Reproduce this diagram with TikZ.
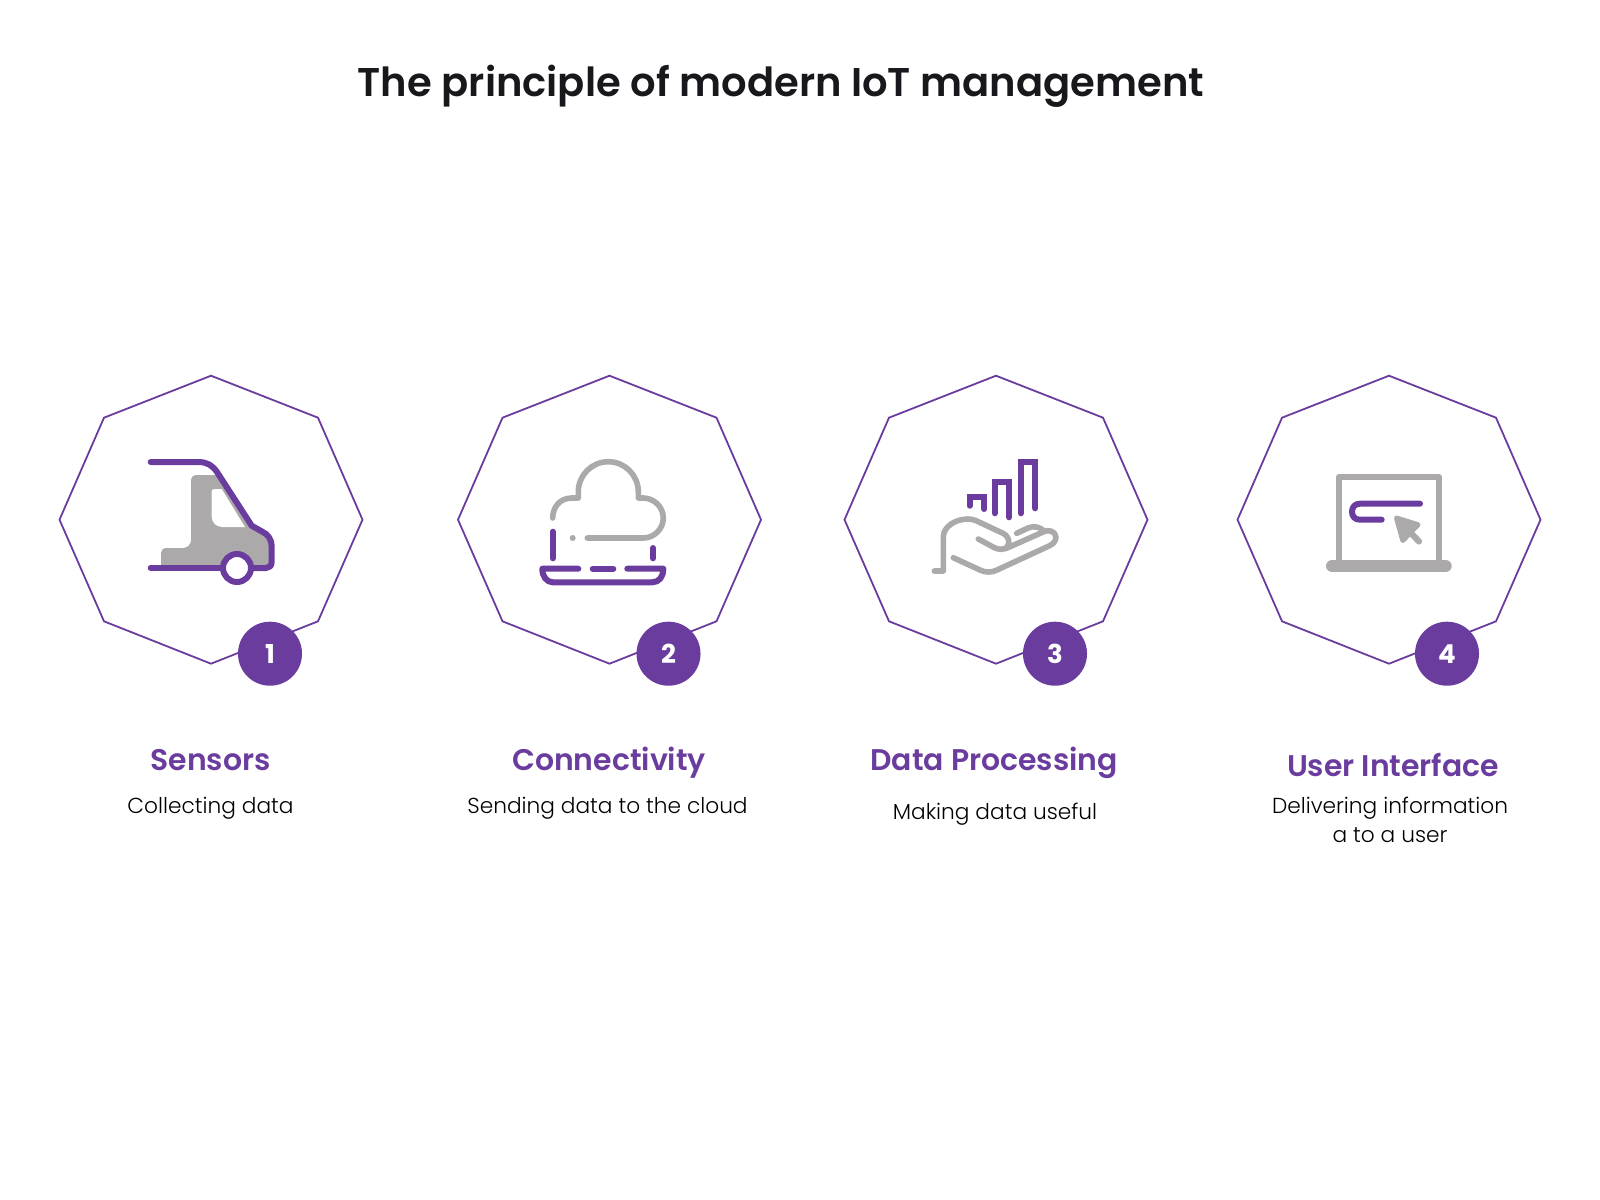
\documentclass[tikz,border=0pt]{standalone}
\usepackage{fontspec}
\setmainfont{Poppins}
\newfontfamily\lightfont{Poppins Light}
\newfontfamily\semifont{Poppins SemiBold}
\usepackage{tikz}
\definecolor{purp}{HTML}{6A3C9E}
\definecolor{gry}{HTML}{ABA9A9}
\definecolor{ink}{HTML}{18181C}

\begin{document}
\begin{tikzpicture}[x=0.01cm,y=-0.01cm,
	octa/.style={draw=purp,line width=0.18mm,line join=miter},
	badge/.style={circle,fill=purp,minimum size=0.64cm,inner sep=0pt,text=white,font=\bfseries\fontsize{7.4}{8}\selectfont},
	pline/.style={draw=purp,line width=0.6mm,line cap=round,line join=round},
	gline/.style={draw=gry,line width=0.56mm,line cap=round,line join=round},
	head/.style={anchor=base,text=purp,font=\semifont\fontsize{8.5}{10}\selectfont},
	body/.style={anchor=base,text=black,font=\lightfont\fontsize{6.17}{8}\selectfont}]
	\useasboundingbox (0,0) rectangle (1600,1200);
	\node[anchor=base,text=ink,font=\semifont\fontsize{11.4}{14}\selectfont] (title) at (781,97) {The principle of modern IoT management};
	% octagons and badges
	\foreach \cx/\n/\bx in {211/1/270,609.5/2/668.5,996/3/1055,1389/4/1447}{
		\draw[octa] (\cx,375.7)--(\cx+107,417.7)--(\cx+151.5,519.7)--(\cx+107,621.3)--(\cx,663.7)--(\cx-107,621.3)--(\cx-151.5,519.7)--(\cx-107,417.7)--cycle;
		\node[badge] (badge\n) at (\bx,653.7) {\n};
	}
	% truck
	\fill[gry] (161,567)--(161,553) .. controls (161,550) and (163,548) .. (167,548)--(183,548) .. controls (188,548) and (191,544) .. (191,540)--(191,481) .. controls (191,477) and (193,475) .. (197,475)--(220,475)--(252,526)--(266,534)--(271,545)--(271,566)--cycle;
	\fill[white] (211.7,492) .. controls (211.7,490) and (212,489) .. (215,489)--(221.7,489)--(245,527)--(222,527) .. controls (216,527) and (211.7,522) .. (211.7,517)--cycle;
	\draw[pline] (150.7,462)--(198,462) .. controls (207,462) and (212,465) .. (217,472)--(251.7,525.7)--(262,531.5) .. controls (268,534) and (271.7,540) .. (271.7,546)--(271.7,562) .. controls (271.7,566) and (269,568) .. (266,568)--(251.7,568);
	\draw[pline] (150.7,568)--(222,568);
	\draw[pline,fill=white] (237,568) circle (14);
	% cloud over tray
	\draw[gline] (552.7,518) .. controls (552.7,507) and (560,498) .. (572,498)--(578.3,498)--(578.3,491.7) .. controls (578.3,475.2) and (591.8,461.7) .. (608.3,461.7) .. controls (624.8,461.7) and (638.3,475.2) .. (638.3,491.7)--(638.3,498)--(643,498) .. controls (654,498) and (663.3,507) .. (663.3,518) .. controls (663.3,529) and (654,538) .. (643.3,538)--(587.3,538);
	\fill[gry] (572.7,538) circle (3);
	\draw[pline] (552.7,531.7)--(552.7,558.3);
	\draw[pline] (653,548)--(653,558.3);
	\draw[pline] (578.3,568.7)--(542.3,568.7) .. controls (542.3,577) and (547,582.3) .. (553,582.3)--(652,582.3) .. controls (659,582.3) and (663.3,577) .. (663.3,568.7)--(627.3,568.7);
	\draw[pline] (592.7,568.7)--(613.3,568.7);
	% bars over hand
	\draw[pline,line join=miter] (969.7,505.7)--(969.7,497.3)--(984.3,497.3)--(984.3,509);
	\draw[pline,line join=miter] (994.7,513.3)--(994.7,482.3)--(1009.3,482.3)--(1009.3,517.3);
	\draw[pline,line join=miter] (1020.7,513.3)--(1020.7,462.3)--(1035.3,462.3)--(1035.3,508.3);
	\draw[gline] (934.3,571)--(943.3,571)--(943.3,537) .. controls (943.3,527) and (955,519) .. (968,519) .. controls (973,519) and (977,521) .. (981,523)--(1003,533.3) .. controls (1011,537) and (1011,549.3) .. (1001,549.3) .. controls (998,549.3) and (996,548.5) .. (994,547.5)--(978.3,539);
	\draw[gline] (953.3,557.7)--(980,570) .. controls (985,572.7) and (992,572.7) .. (997,570)--(1050,545.5) .. controls (1059,541) and (1057,530.7) .. (1048,530.7) .. controls (1046,530.7) and (1044,531.5) .. (1042,532.5)--(1006,548.5);
	\draw[gline] (1016.7,533.3)--(1028,528) .. controls (1034,525.5) and (1040,527) .. (1044,531);
	% laptop
	\draw[gry,line width=0.6mm,line join=round] (1339,560)--(1339,477)--(1439,477)--(1439,560);
	\draw[gry,line width=1.2mm,line cap=round] (1332,566)--(1445.7,566);
	\draw[pline] (1420,503.7)--(1360,503.7) .. controls (1355,503.7) and (1352,507) .. (1352,511.7) .. controls (1352,516.5) and (1355,519.7) .. (1360,519.7)--(1381.7,519.7);
	\draw[gry,fill=gry,line width=0.5mm,line join=round] (1396.5,518)--(1418,524.7)--(1402.8,540.5)--cycle;
	\draw[gry,line width=0.62mm,line cap=round] (1408,530)--(1419,541.5);
	% labels
	\node[head] (head1) at (210.5,770) {Sensors};
	\node[body] (text1) at (210.5,813.5) {Collecting data};
	\node[head] (head2) at (609,770) {Connectivity};
	\node[body] (text2) at (607.5,813.5) {Sending data to the cloud};
	\node[head] (head3) at (994,770) {Data Processing};
	\node[body] (text3) at (995,819.5) {Making data useful};
	\node[head] (head4) at (1393,776) {User Interface};
	\node[body] (text4) at (1390,813.5) {Delivering information};
	\node[body] (text5) at (1390,842) {a to a user};
\end{tikzpicture}
\end{document}
